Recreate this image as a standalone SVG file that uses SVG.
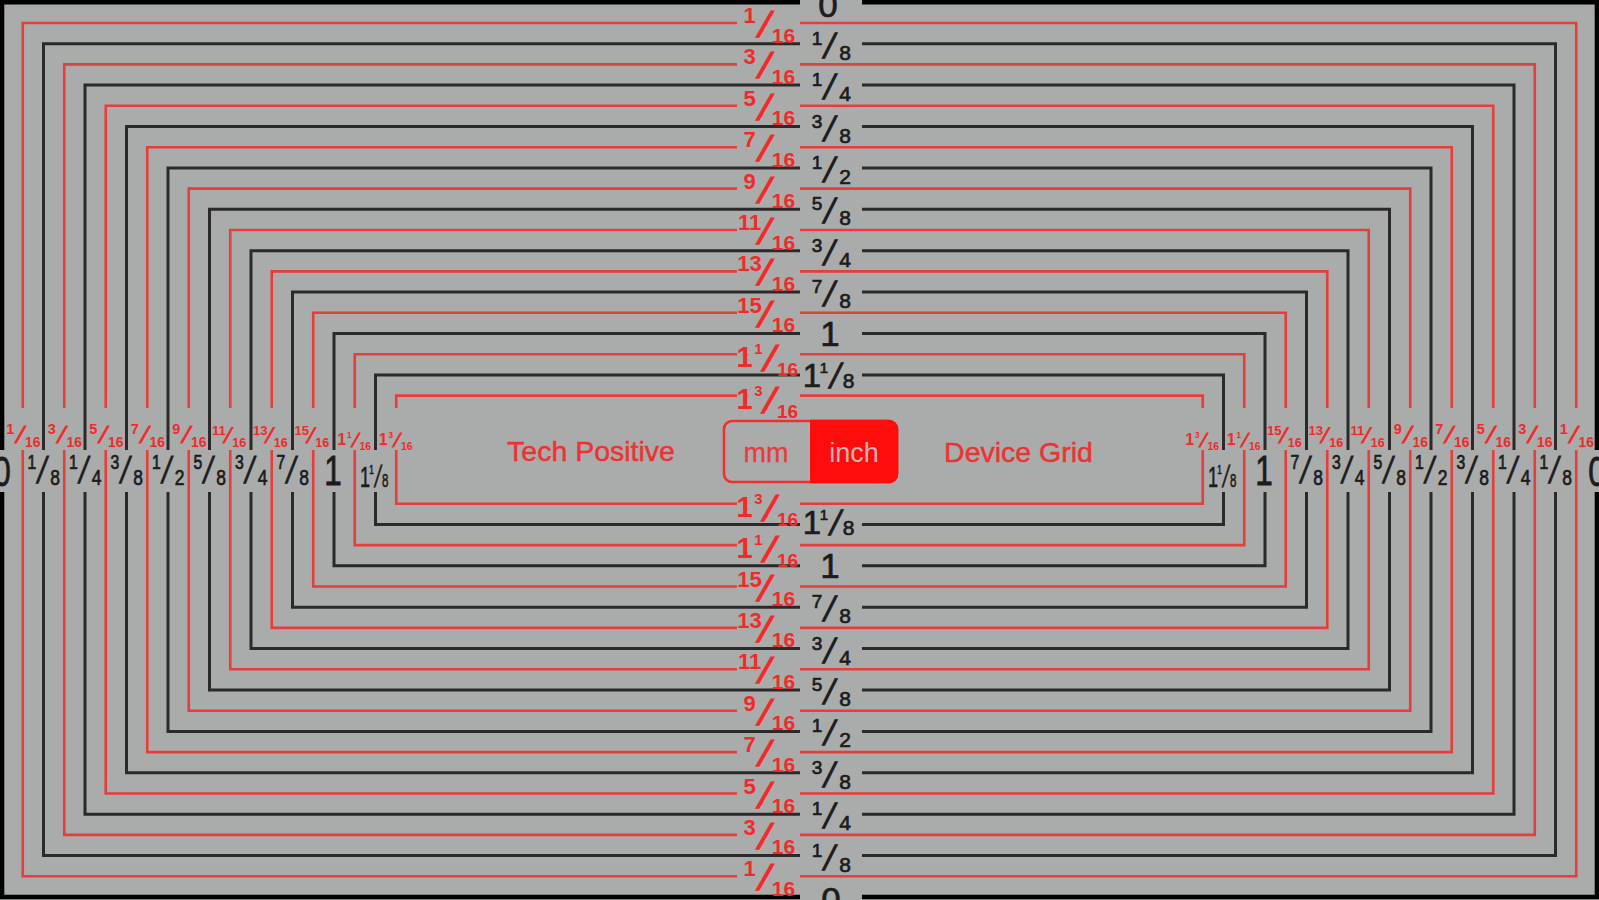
<svg xmlns="http://www.w3.org/2000/svg" xmlns:xlink="http://www.w3.org/1999/xlink" width="1599" height="900" viewBox="0 0 1599 900">
<style>
.r{fill:none;stroke:#e63d3d;stroke-width:2.6;stroke-linejoin:miter}
.k{fill:none;stroke:#2a2a2a;stroke-width:3;stroke-linejoin:miter}
.k0{fill:none;stroke:#000;stroke-width:4.6;stroke-linejoin:miter}
text{font-family:"Liberation Sans",Arial,sans-serif}
.kt{fill:#1c1c1c;stroke:#1c1c1c;stroke-width:0.7;text-anchor:middle}
.rt{fill:#f22a2a;text-anchor:middle;font-weight:bold}
.n{font-size:19px}
.d{font-size:21px}
.rn{font-size:22px}
.rd{font-size:21px}
.big{font-size:35px}
.lbl{fill:#ea3434;stroke:#ea3434;stroke-width:0.5;text-anchor:middle;font-size:28.5px}
</style>
<defs>
<text id="ksl" class="kt" font-size="35" transform="translate(-4.1,14) skewX(-13)">/</text>
<text id="rsl" class="rt" font-size="36.6" transform="translate(-8.5,14) skewX(-21)">/</text>
<g id="k0"><text class="kt big" x="0" y="15">0</text></g>
<g id="k2"><text class="kt n" x="-14" y="1">1</text><use href="#ksl"/><text class="kt d" x="14" y="16">8</text></g>
<g id="k4"><text class="kt n" x="-14" y="1">1</text><use href="#ksl"/><text class="kt d" x="14" y="16">4</text></g>
<g id="k6"><text class="kt n" x="-14" y="1">3</text><use href="#ksl"/><text class="kt d" x="14" y="16">8</text></g>
<g id="k8"><text class="kt n" x="-14" y="1">1</text><use href="#ksl"/><text class="kt d" x="14" y="16">2</text></g>
<g id="k10"><text class="kt n" x="-14" y="1">5</text><use href="#ksl"/><text class="kt d" x="14" y="16">8</text></g>
<g id="k12"><text class="kt n" x="-14" y="1">3</text><use href="#ksl"/><text class="kt d" x="14" y="16">4</text></g>
<g id="k14"><text class="kt n" x="-14" y="1">7</text><use href="#ksl"/><text class="kt d" x="14" y="16">8</text></g>
<g id="k16"><text class="kt big" x="0" y="12.5">1</text></g>
<g id="k18"><text class="kt" font-size="33" x="-19" y="12">1</text><text class="kt" font-size="15" x="-7" y="-2">1</text><use href="#ksl" x="6" y="-1"/><text class="kt" font-size="21" x="17.5" y="13">8</text></g>
<g id="r1"><text class="rt rn" x="-19" y="0">1</text><use href="#rsl"/><text class="rt rd" x="15" y="19.5">16</text></g>
<g id="r3"><text class="rt rn" x="-19" y="0">3</text><use href="#rsl"/><text class="rt rd" x="15" y="19.5">16</text></g>
<g id="r5"><text class="rt rn" x="-19" y="0">5</text><use href="#rsl"/><text class="rt rd" x="15" y="19.5">16</text></g>
<g id="r7"><text class="rt rn" x="-19" y="0">7</text><use href="#rsl"/><text class="rt rd" x="15" y="19.5">16</text></g>
<g id="r9"><text class="rt rn" x="-19" y="0">9</text><use href="#rsl"/><text class="rt rd" x="15" y="19.5">16</text></g>
<g id="r11"><text class="rt rn" x="-19" y="0">11</text><use href="#rsl"/><text class="rt rd" x="15" y="19.5">16</text></g>
<g id="r13"><text class="rt rn" x="-19" y="0">13</text><use href="#rsl"/><text class="rt rd" x="15" y="19.5">16</text></g>
<g id="r15"><text class="rt rn" x="-19" y="0">15</text><use href="#rsl"/><text class="rt rd" x="15" y="19.5">16</text></g>
<g id="r17"><text class="rt" font-size="29" x="-24" y="13">1</text><text class="rt" font-size="15" x="-10" y="0">1</text><use href="#rsl" x="5" y="3"/><text class="rt" font-size="19" x="19" y="22">16</text></g>
<g id="r19"><text class="rt" font-size="29" x="-24" y="13">1</text><text class="rt" font-size="15" x="-10" y="0">3</text><use href="#rsl" x="5" y="3"/><text class="rt" font-size="19" x="19" y="22">16</text></g>
</defs>
<rect width="1599" height="900" fill="#aaabab"/>
<g id="connectors">
<path class="k0" d="M862 2.3H1597V450M1597 492V897H862M800 897H2V492M2 450V2.3H800"/>
<path class="r" d="M800 23H1576.25V408M1576.25 450V876.3H800M737 876.3H22.75V450M22.75 408V23H737"/>
<path class="k" d="M862 43.7H1555.5V450M1555.5 492V855.6H862M800 855.6H43.5V492M43.5 450V43.7H800"/>
<path class="r" d="M800 64.4H1534.75V408M1534.75 450V834.9H800M737 834.9H64.25V450M64.25 408V64.4H737"/>
<path class="k" d="M862 85.1H1514V450M1514 492V814.2H862M800 814.2H85V492M85 450V85.1H800"/>
<path class="r" d="M800 105.8H1493.25V408M1493.25 450V793.5H800M737 793.5H105.75V450M105.75 408V105.8H737"/>
<path class="k" d="M862 126.5H1472.5V450M1472.5 492V772.8H862M800 772.8H126.5V492M126.5 450V126.5H800"/>
<path class="r" d="M800 147.2H1451.75V408M1451.75 450V752.1H800M737 752.1H147.25V450M147.25 408V147.2H737"/>
<path class="k" d="M862 167.9H1431V450M1431 492V731.4H862M800 731.4H168V492M168 450V167.9H800"/>
<path class="r" d="M800 188.6H1410.25V408M1410.25 450V710.7H800M737 710.7H188.75V450M188.75 408V188.6H737"/>
<path class="k" d="M862 209.3H1389.5V450M1389.5 492V690H862M800 690H209.5V492M209.5 450V209.3H800"/>
<path class="r" d="M800 230H1368.75V408M1368.75 450V669.3H800M737 669.3H230.25V450M230.25 408V230H737"/>
<path class="k" d="M862 250.7H1348V450M1348 492V648.6H862M800 648.6H251V492M251 450V250.7H800"/>
<path class="r" d="M800 271.4H1327.25V408M1327.25 450V627.9H800M737 627.9H271.75V450M271.75 408V271.4H737"/>
<path class="k" d="M862 292.1H1306.5V450M1306.5 492V607.2H862M800 607.2H292.5V492M292.5 450V292.1H800"/>
<path class="r" d="M800 312.8H1285.75V408M1285.75 450V586.5H800M737 586.5H313.25V450M313.25 408V312.8H737"/>
<path class="k" d="M862 333.5H1265V450M1265 492V565.8H862M800 565.8H334V492M334 450V333.5H800"/>
<path class="r" d="M800 354.2H1244.25V408M1244.25 450V545.1H800M737 545.1H354.75V450M354.75 408V354.2H737"/>
<path class="k" d="M862 374.9H1223.5V450M1223.5 492V524.4H862M800 524.4H375.5V492M375.5 450V374.9H800"/>
<path class="r" d="M800 395.6H1202.75V408M1202.75 450V503.7H800M737 503.7H396.25V450M396.25 408V395.6H737"/>
</g>
<g id="labels-top">
<use href="#k0" x="828" y="2.3"/>
<use href="#r1" x="768.5" y="23"/>
<use href="#k2" x="831" y="43.7"/>
<use href="#r3" x="768.5" y="64.4"/>
<use href="#k4" x="831" y="85.1"/>
<use href="#r5" x="768.5" y="105.8"/>
<use href="#k6" x="831" y="126.5"/>
<use href="#r7" x="768.5" y="147.2"/>
<use href="#k8" x="831" y="167.9"/>
<use href="#r9" x="768.5" y="188.6"/>
<use href="#k10" x="831" y="209.3"/>
<use href="#r11" x="768.5" y="230"/>
<use href="#k12" x="831" y="250.7"/>
<use href="#r13" x="768.5" y="271.4"/>
<use href="#k14" x="831" y="292.1"/>
<use href="#r15" x="768.5" y="312.8"/>
<use href="#k16" x="830" y="333.5"/>
<use href="#r17" x="768.5" y="354.2"/>
<use href="#k18" x="831" y="374.9"/>
<use href="#r19" x="768.5" y="395.6"/>
</g>
<g id="labels-bottom">
<use href="#k0" x="831" y="897"/>
<use href="#r1" x="768.5" y="876.3"/>
<use href="#k2" x="831" y="855.6"/>
<use href="#r3" x="768.5" y="834.9"/>
<use href="#k4" x="831" y="814.2"/>
<use href="#r5" x="768.5" y="793.5"/>
<use href="#k6" x="831" y="772.8"/>
<use href="#r7" x="768.5" y="752.1"/>
<use href="#k8" x="831" y="731.4"/>
<use href="#r9" x="768.5" y="710.7"/>
<use href="#k10" x="831" y="690"/>
<use href="#r11" x="768.5" y="669.3"/>
<use href="#k12" x="831" y="648.6"/>
<use href="#r13" x="768.5" y="627.9"/>
<use href="#k14" x="831" y="607.2"/>
<use href="#r15" x="768.5" y="586.5"/>
<use href="#k16" x="830" y="565.8"/>
<use href="#r17" x="768.5" y="545.1"/>
<use href="#k18" x="831" y="522"/>
<use href="#r19" x="768.5" y="503.7"/>
</g>
<g id="labels-left">
<use href="#k0" transform="translate(2,468) scale(0.9,1.2)"/>
<use href="#r1" transform="translate(22.75,434) scale(0.66)"/>
<use href="#k2" transform="translate(43.5,468) scale(0.83,1.07)"/>
<use href="#r3" transform="translate(64.25,434) scale(0.66)"/>
<use href="#k4" transform="translate(85,468) scale(0.83,1.07)"/>
<use href="#r5" transform="translate(105.75,434) scale(0.66)"/>
<use href="#k6" transform="translate(126.5,468) scale(0.83,1.07)"/>
<use href="#r7" transform="translate(147.25,434) scale(0.66)"/>
<use href="#k8" transform="translate(168,468) scale(0.83,1.07)"/>
<use href="#r9" transform="translate(188.75,434) scale(0.66)"/>
<use href="#k10" transform="translate(209.5,468) scale(0.83,1.07)"/>
<use href="#r11" transform="translate(230.25,435) scale(0.6)"/>
<use href="#k12" transform="translate(251,468) scale(0.83,1.07)"/>
<use href="#r13" transform="translate(271.75,435) scale(0.6)"/>
<use href="#k14" transform="translate(292.5,468) scale(0.83,1.07)"/>
<use href="#r15" transform="translate(313.25,435) scale(0.6)"/>
<use href="#k16" transform="translate(333,470) scale(0.9,1.2)"/>
<use href="#r17" transform="translate(354.75,438) scale(0.55)"/>
<use href="#k18" transform="translate(375.5,476) scale(0.55,0.88)"/>
<use href="#r19" transform="translate(396.25,438) scale(0.55)"/>
</g>
<g id="labels-right">
<use href="#k0" transform="translate(1597,468) scale(0.9,1.2)"/>
<use href="#r1" transform="translate(1576.25,434) scale(0.66)"/>
<use href="#k2" transform="translate(1555.5,468) scale(0.83,1.07)"/>
<use href="#r3" transform="translate(1534.75,434) scale(0.66)"/>
<use href="#k4" transform="translate(1514,468) scale(0.83,1.07)"/>
<use href="#r5" transform="translate(1493.25,434) scale(0.66)"/>
<use href="#k6" transform="translate(1472.5,468) scale(0.83,1.07)"/>
<use href="#r7" transform="translate(1451.75,434) scale(0.66)"/>
<use href="#k8" transform="translate(1431,468) scale(0.83,1.07)"/>
<use href="#r9" transform="translate(1410.25,434) scale(0.66)"/>
<use href="#k10" transform="translate(1389.5,468) scale(0.83,1.07)"/>
<use href="#r11" transform="translate(1368.75,435) scale(0.6)"/>
<use href="#k12" transform="translate(1348,468) scale(0.83,1.07)"/>
<use href="#r13" transform="translate(1327.25,435) scale(0.6)"/>
<use href="#k14" transform="translate(1306.5,468) scale(0.83,1.07)"/>
<use href="#r15" transform="translate(1285.75,435) scale(0.6)"/>
<use href="#k16" transform="translate(1264,470) scale(0.9,1.2)"/>
<use href="#r17" transform="translate(1244.25,438) scale(0.55)"/>
<use href="#k18" transform="translate(1223.5,476) scale(0.55,0.88)"/>
<use href="#r19" transform="translate(1202.75,438) scale(0.55)"/>
</g>
<g id="title-left"><text class="lbl" x="591" y="461">Tech Positive</text></g>
<g id="toggle">
<rect x="724" y="421" width="173" height="61" rx="8" fill="none" stroke="#f03030" stroke-width="2.6"/>
<path d="M810 419.7H889A9.3 9.3 0 0 1 898.3 429V474A9.3 9.3 0 0 1 889 483.3H810Z" fill="#ff0d0d"/>
<text x="766" y="462" fill="#e63c3c" stroke="#e63c3c" stroke-width="0.3" font-size="27" text-anchor="middle">mm</text>
<text x="854" y="462" fill="#d9b2b2" font-size="27" text-anchor="middle">inch</text>
</g>
<g id="title-right"><text class="lbl" x="1018.5" y="462">Device Grid</text></g>
</svg>
